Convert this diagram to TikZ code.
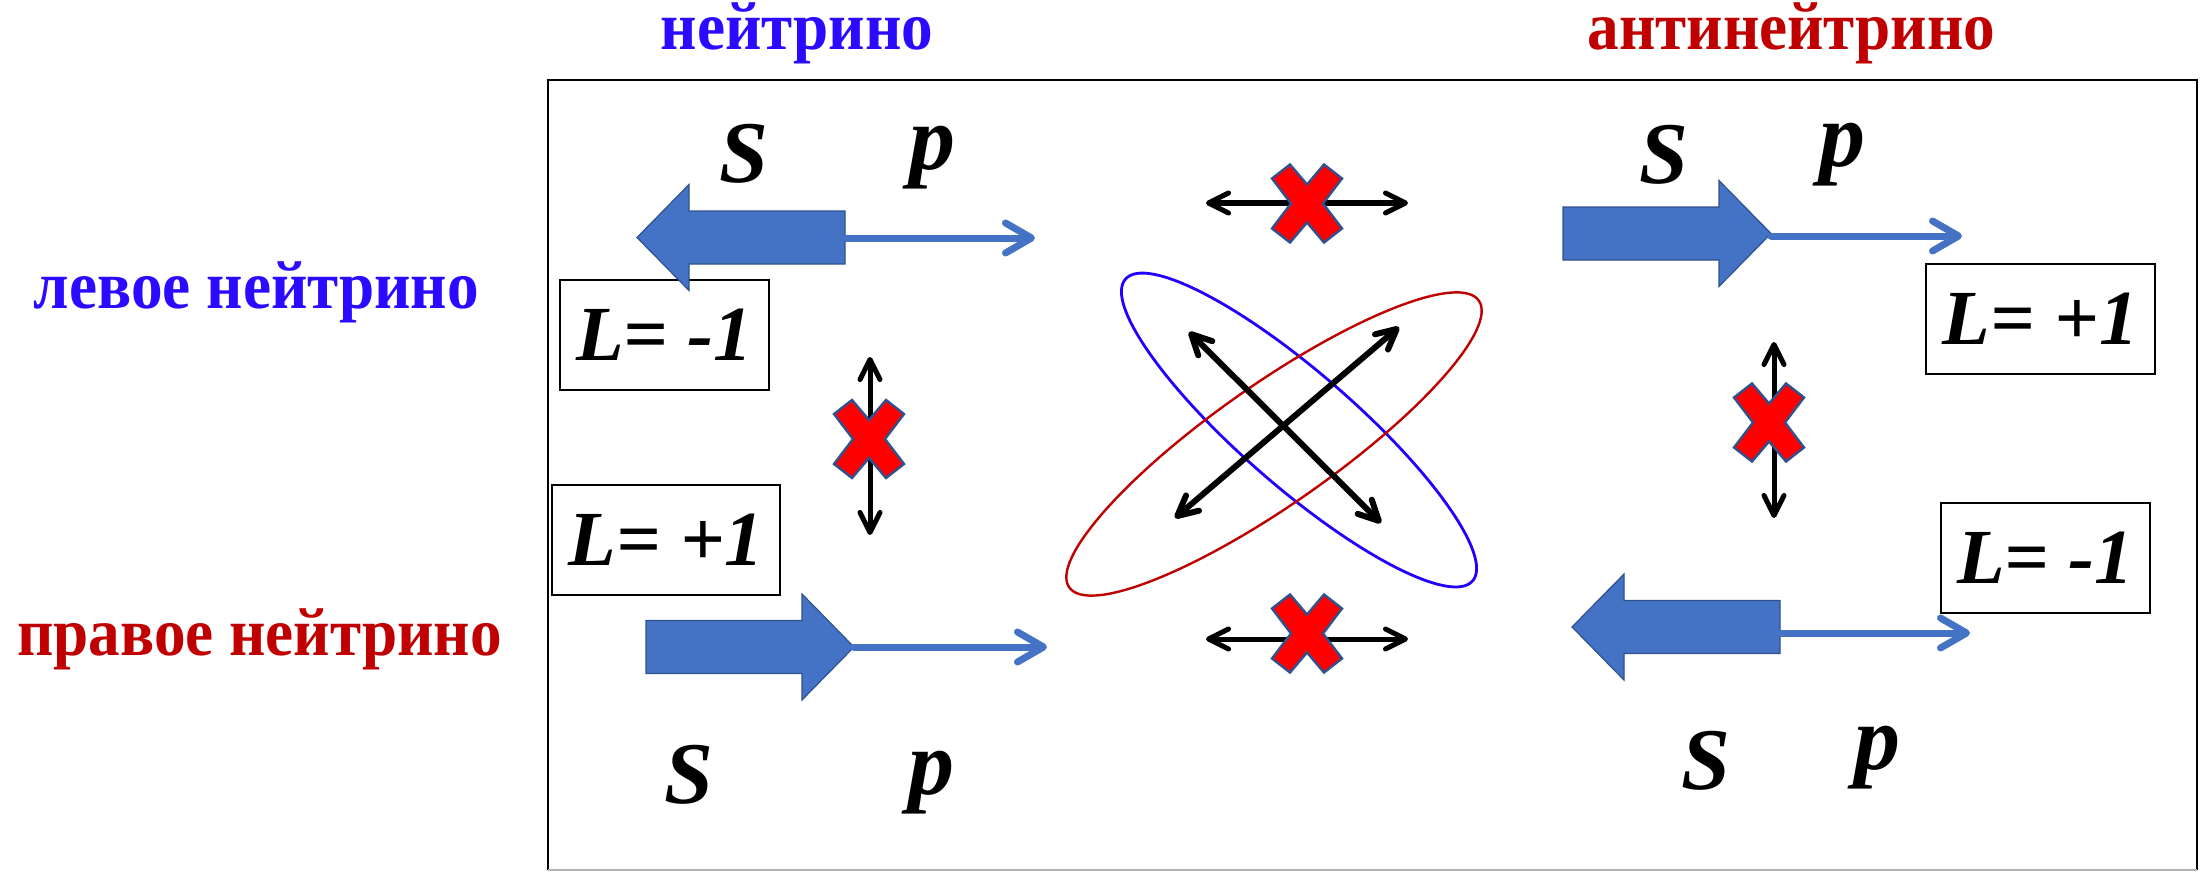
\documentclass[tikz,border=0pt]{standalone}
\usepackage{fontspec}
\setmainfont{Liberation Serif}
\newfontfamily\labfont{Liberation Serif}[FakeStretch=0.93]
\usetikzlibrary{arrows.meta}
\definecolor{ablue}{HTML}{4472C4}
\definecolor{aedge}{HTML}{2F528F}
\definecolor{tblue}{HTML}{2B0BFF}
\definecolor{eblue}{HTML}{2200FF}
\definecolor{tred}{HTML}{C00000}
\begin{document}
\begin{tikzpicture}[x=0.5pt,y=-0.5pt,
  lab/.style={font=\labfont\bfseries\fontsize{34}{38}\selectfont, inner sep=0pt, anchor=base},
  spin/.style={font=\bfseries\itshape\fontsize{44}{50}\selectfont, inner sep=0pt},
  mom/.style={font=\bfseries\itshape\fontsize{46}{50}\selectfont, inner sep=0pt},
  lbox/.style={draw, line width=1pt, font=\bfseries\itshape\fontsize{39}{44}\selectfont, minimum height=55pt, inner sep=0pt},
  fat/.style={fill=ablue, draw=aedge, line width=0.6pt},
  thinarr/.style={draw=ablue, line width=3.5pt, line cap=round, -{Straight Barb[length=13pt,width=15pt,round]}},
  dbl/.style={draw=black, line width=2.5pt, {Straight Barb[length=10pt,width=10pt,round]}-{Straight Barb[length=10pt,width=10pt,round]}},
  xmark/.style={fill=red, draw=aedge, line width=1.2pt, line join=miter},
  fatr/.pic={\draw[fat] (0,0) -- (-52,-53) -- (-52,-26.5) -- (-208,-26.5) -- (-208,26.5) -- (-52,26.5) -- (-52,53) -- cycle;},
  xm/.pic={\draw[xmark] (0,-19) -- (17,-39) -- (35,-25) -- (16,0) -- (35,25) -- (17,39) -- (0,19) -- (-17,39) -- (-35,25) -- (-16,0) -- (-35,-25) -- (-17,-39) -- cycle;},
]
\useasboundingbox (0,0) rectangle (2202,872);

% frame
\draw[line width=1.3pt] (548,870) -- (548,80) -- (2197,80) -- (2197,870);
\draw[gray!60, line width=1pt] (548,870) -- (2197,870);

% titles
\node[lab, text=tblue] (nu) at (797,50) {нейтрино};
\node[lab, text=tred] (anu) at (1791.5,50) {антинейтрино};
\node[lab, text=tblue] (lefth) at (256.5,308) {левое нейтрино};
\node[lab, text=tred] (righth) at (259.5,655) {правое нейтрино};

% L boxes
\node[lbox, minimum width=104.5pt] (L1) at (664.5,335) {L= -1};
\node[lbox, minimum width=114pt] (L2) at (666,540) {L= +1};
\node[lbox, minimum width=114.5pt] (L3) at (2040.5,319) {L= +1};
\node[lbox, minimum width=104.5pt] (L4) at (2045.5,558) {L= -1};

% fat spin arrows
\pic[xscale=-1] at (637,237.5) {fatr};
\pic at (854,647) {fatr};
\pic at (1771,233.5) {fatr};
\pic[xscale=-1] at (1572,627) {fatr};

% thin momentum arrows
\coordinate (tlj) at (846,238);  \coordinate (tlt) at (1035,238);
\coordinate (blj) at (854,647);  \coordinate (blt) at (1047,647);
\coordinate (trj) at (1771,236); \coordinate (trt) at (1962,236);
\coordinate (brj) at (1779,633); \coordinate (brt) at (1970,633);
\draw[thinarr] (tlj) -- (tlt);
\draw[thinarr] (blj) -- (blt);
\draw[thinarr] (trj) -- (trt);
\draw[thinarr] (brj) -- (brt);

% S and p labels
\node[spin] (s1) at (744,153.5) {S};
\node[mom] (p1) at (932.5,157.5) {p};
\node[spin] (s2) at (1664,155) {S};
\node[mom] (p2) at (1842.5,154.5) {p};
\node[spin] (s3) at (689,774.5) {S};
\node[mom] (p3) at (931.5,782.5) {p};
\node[spin] (s4) at (1706,760.5) {S};
\node[mom] (p4) at (1877,758) {p};

% ellipses
\coordinate (ebc) at (1299,430);
\coordinate (erc) at (1274,444);
\draw[eblue, line width=1.4pt, rotate around={-41:(ebc)}] (ebc) ellipse [x radius=115pt, y radius=28.5pt];
\draw[tred, line width=1.2pt, rotate around={35:(erc)}] (erc) ellipse [x radius=125pt, y radius=30pt];

% diagonal arrows
\coordinate (da1) at (1175,518); \coordinate (da2) at (1399,327);
\coordinate (db1) at (1189,332); \coordinate (db2) at (1381,523);
\draw[dbl, line width=3pt] (da1) -- (da2);
\draw[dbl, line width=3pt] (db1) -- (db2);

% forbidden transitions
\coordinate (ht1) at (1206,203); \coordinate (ht2) at (1408,203);
\coordinate (hb1) at (1206,639); \coordinate (hb2) at (1408,639);
\coordinate (vl1) at (870,357);  \coordinate (vl2) at (870,535);
\coordinate (vr1) at (1774,342); \coordinate (vr2) at (1774,518);
\draw[dbl] (ht1) -- (ht2);
\draw[dbl] (hb1) -- (hb2);
\draw[dbl] (vl1) -- (vl2);
\draw[dbl] (vr1) -- (vr2);
\pic at (1307,203.5) {xm};
\pic at (1307,633.5) {xm};
\pic at (869,439) {xm};
\pic at (1769,422.5) {xm};
\end{tikzpicture}
\end{document}
